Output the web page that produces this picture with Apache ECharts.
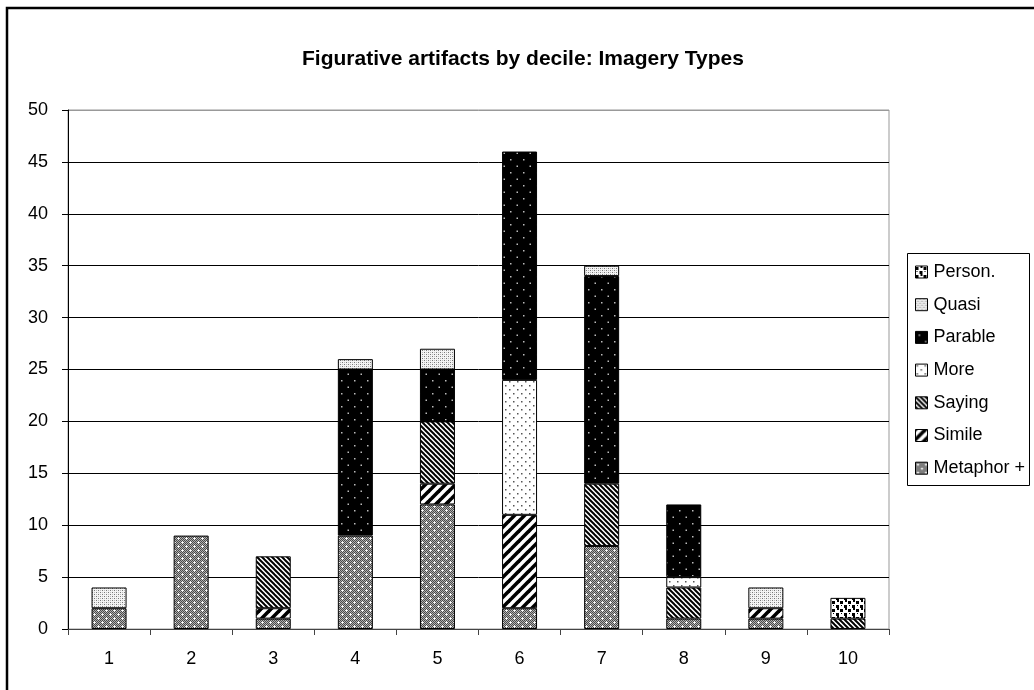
<!DOCTYPE html>
<html>
<head>
<meta charset="utf-8">
<script src="https://cdn.jsdelivr.net/npm/echarts@6/dist/echarts.min.js"></script>
<style>
  html, body { margin: 0; padding: 0; background: #fff; }
  #chart { width: 1034px; height: 690px; }
</style>
</head>
<body>
<div id="chart"></div>
<script>
// Deciles along the x axis
const deciles = ['1', '2', '3', '4', '5', '6', '7', '8', '9', '10'];

// Counts of each imagery type per decile
const metaphor = [2, 9, 1, 9, 12, 2, 8, 1, 1, 0];
const simile   = [0, 0, 1, 0, 2, 9, 0, 0, 1, 0];
const saying   = [0, 0, 5, 0, 6, 0, 6, 3, 0, 1];
const more     = [0, 0, 0, 0, 0, 13, 0, 1, 0, 0];
const parable  = [0, 0, 0, 16, 5, 22, 20, 7, 0, 0];
const quasi    = [2, 0, 0, 1, 2, 0, 1, 0, 2, 0];
const person   = [0, 0, 0, 0, 0, 0, 0, 0, 0, 2];

// Y axis ticks
const yTicks = [0, 5, 10, 15, 20, 25, 30, 35, 40, 45, 50];

// ---- monochrome fill patterns ----
function tile(w, h, draw) {
  const c = document.createElement('canvas');
  c.width = w; c.height = h;
  const ctx = c.getContext('2d');
  draw(ctx, w, h);
  return { image: c, repeat: 'repeat' };
}
function px(ctx, x, y, col, s) { ctx.fillStyle = col; ctx.fillRect(x, y, s || 1, s || 1); }

const fills = {
  metaphor: tile(8, 8, (ctx, w, h) => {
    ctx.fillStyle = '#b0b0b0'; ctx.fillRect(0, 0, w, h);
    for (let y = 0; y < h; y++) for (let x = 0; x < w; x++) if ((x + y) % 2 === 0) px(ctx, x, y, '#4a4a4a');
    // small white crosses
    [[2, 2], [6, 6]].forEach(([x, y]) => {
      px(ctx, x, y, '#fff'); px(ctx, x - 1, y, '#eee'); px(ctx, x + 1, y, '#eee');
      px(ctx, x, y - 1, '#eee'); px(ctx, x, y + 1, '#eee');
    });
  }),
  simile: tile(10, 10, (ctx, w, h) => {
    ctx.fillStyle = '#fff'; ctx.fillRect(0, 0, w, h);
    ctx.strokeStyle = '#000'; ctx.lineWidth = 3.6;
    for (let k = -1; k <= 1; k++) {
      ctx.beginPath(); ctx.moveTo(k * w - 1, h + 1); ctx.lineTo(k * w + w + 1, -1); ctx.stroke();
    }
  }),
  saying: tile(5, 5, (ctx, w, h) => {
    ctx.fillStyle = '#fff'; ctx.fillRect(0, 0, w, h);
    ctx.strokeStyle = '#000'; ctx.lineWidth = 2;
    for (let k = -1; k <= 1; k++) {
      ctx.beginPath(); ctx.moveTo(k * w - 1, -1); ctx.lineTo(k * w + w + 1, h + 1); ctx.stroke();
    }
  }),
  more: tile(8, 8, (ctx, w, h) => {
    ctx.fillStyle = '#fff'; ctx.fillRect(0, 0, w, h);
    px(ctx, 1, 1, '#555', 1.5); px(ctx, 5, 5, '#555', 1.5);
  }),
  parable: tile(13, 13, (ctx, w, h) => {
    ctx.fillStyle = '#000'; ctx.fillRect(0, 0, w, h);
    px(ctx, 3, 3, '#bbb', 1.5); px(ctx, 9.5, 9.5, '#bbb', 1.5);
  }),
  quasi: tile(4, 4, (ctx, w, h) => {
    ctx.fillStyle = '#f4f4f4'; ctx.fillRect(0, 0, w, h);
    px(ctx, 0, 0, '#777'); px(ctx, 2, 2, '#777');
    px(ctx, 2, 0, '#bbb'); px(ctx, 0, 2, '#bbb');
  }),
  person: tile(8, 8, (ctx, w, h) => {
    ctx.fillStyle = '#fff'; ctx.fillRect(0, 0, w, h);
    px(ctx, 0, 1, '#000', 3); px(ctx, 4, 5, '#000', 3);
    px(ctx, 5, 0, '#000', 2); px(ctx, 1, 5, '#000', 1);
  })
};

const seriesDefs = [
  { name: 'Metaphor +', data: metaphor, fill: fills.metaphor },
  { name: 'Simile',     data: simile,   fill: fills.simile },
  { name: 'Saying',     data: saying,   fill: fills.saying },
  { name: 'More',       data: more,     fill: fills.more },
  { name: 'Parable',    data: parable,  fill: fills.parable },
  { name: 'Quasi',      data: quasi,    fill: fills.quasi },
  { name: 'Person.',    data: person,   fill: fills.person }
];

const font = '"Liberation Sans", Arial, sans-serif';

// gridlines are black, except the top one which is part of the grey plot frame
const gridColors = yTicks.map((t, i) => (i === yTicks.length - 1 ? '#999' : '#000'));

const chart = echarts.init(document.getElementById('chart'), null, { renderer: 'canvas' });
chart.setOption({
  animation: false,
  backgroundColor: '#fff',
  title: {
    text: 'Figurative artifacts by decile: Imagery Types',
    left: 518,
    top: 44,
    textAlign: 'center',
    textStyle: { fontFamily: font, fontSize: 21, fontWeight: 'bold', color: '#000' }
  },
  graphic: [
    { type: 'rect', shape: { x: 7, y: 8, width: 1100, height: 800 },
      style: { fill: null, stroke: '#000', lineWidth: 2.5 }, silent: true, z: 100 },
    { type: 'rect', shape: { x: 907.5, y: 253.5, width: 122, height: 232 },
      style: { fill: '#fff', stroke: '#000', lineWidth: 1 }, silent: true, z: 1 }
  ],
  legend: {
    orient: 'vertical',
    left: 915,
    top: 262,
    padding: 0,
    itemWidth: 12,
    itemHeight: 12,
    itemGap: 12.7,
    icon: 'rect',
    data: seriesDefs.map(s => s.name).reverse(),
    itemStyle: { borderColor: '#000', borderWidth: 1 },
    textStyle: { fontFamily: font, fontSize: 18, color: '#000', lineHeight: 20, padding: [0, 0, 0, 1] },
    z: 5
  },
  grid: {
    left: 68, right: 145, top: 110, bottom: 61,
    show: true, borderColor: '#999', borderWidth: 1
  },
  xAxis: {
    type: 'category',
    data: deciles,
    axisLine: { lineStyle: { color: '#444', width: 1 } },
    axisTick: { show: true, length: 6, lineStyle: { color: '#444' } },
    axisLabel: { fontFamily: font, fontSize: 18, color: '#000', margin: 21 }
  },
  yAxis: {
    type: 'value',
    min: yTicks[0],
    max: yTicks[yTicks.length - 1],
    interval: yTicks[1] - yTicks[0],
    axisLine: { show: true, lineStyle: { color: '#000', width: 1 } },
    axisTick: { show: true, length: 6, lineStyle: { color: '#000' } },
    axisLabel: { fontFamily: font, fontSize: 18, color: '#000', margin: 20 },
    splitLine: { show: true, lineStyle: { color: gridColors, width: 1 } }
  },
  series: seriesDefs.map(s => ({
    name: s.name,
    type: 'bar',
    stack: 'types',
    barWidth: 35,
    data: s.data.map(v => (v === 0 ? '-' : v)),
    itemStyle: { color: s.fill, borderColor: '#000', borderWidth: 1 },
    emphasis: { disabled: true }
  }))
});
</script>
</body>
</html>
